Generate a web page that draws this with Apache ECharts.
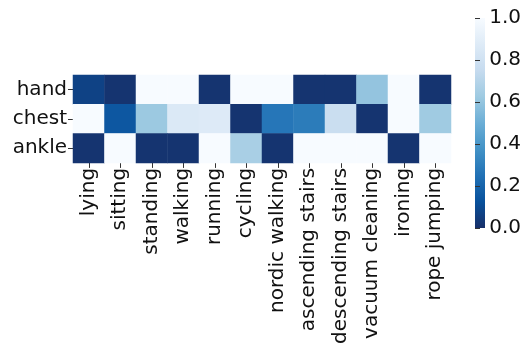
<!DOCTYPE html>
<html>
<head>
<meta charset="utf-8">
<script src="https://cdn.jsdelivr.net/npm/echarts@6/dist/echarts.min.js"></script>
<style>
  html, body { margin: 0; padding: 0; background: #fff; }
  #chart { width: 524px; height: 347px; }
</style>
</head>
<body>
<div id="chart"></div>
<script>
// Activities (columns) and sensor placements (rows)
var activities = ['lying', 'sitting', 'standing', 'walking', 'running', 'cycling',
  'nordic walking', 'ascending stairs', 'descending stairs', 'vacuum cleaning',
  'ironing', 'rope jumping'];
var sensors = ['hand', 'chest', 'ankle'];

// Score per sensor, one value per activity
var handValues  = [0.07, 0.02, 1.00, 1.00, 0.02, 1.00, 1.00, 0.02, 0.02, 0.60, 1.00, 0.02];
var chestValues = [1.00, 0.15, 0.62, 0.86, 0.87, 0.02, 0.27, 0.29, 0.77, 0.02, 1.00, 0.63];
var ankleValues = [0.02, 1.00, 0.02, 0.02, 1.00, 0.66, 0.02, 1.00, 1.00, 1.00, 0.02, 1.00];

// Colour bar ticks
var barTicks = [0.0, 0.2, 0.4, 0.6, 0.8, 1.0];

var rows = [handValues, chestValues, ankleValues];
var cells = [];
rows.forEach(function (vals, r) {
  vals.forEach(function (v, c) { cells.push([c, r, v]); });
});

// Reversed "Blues" palette: dark navy at 0, near-white at 1
var bluesR = ['#172f68', '#08519c', '#2171b5', '#4292c6', '#6baed6',
  '#9ecae1', '#c6dbef', '#deebf7', '#f7fbff'];

var font = 'DejaVu Sans';
var bar = { left: 475, top: 18, width: 10, height: 210 };

var chart = echarts.init(document.getElementById('chart'));
chart.setOption({
  animation: false,
  backgroundColor: '#fff',
  textStyle: { fontFamily: font },
  grid: [
    { left: 73, top: 75, width: 378, height: 94 },
    { left: bar.left, top: bar.top, width: bar.width, height: bar.height }
  ],
  xAxis: [
    {
      type: 'category', gridIndex: 0, data: activities,
      axisLine: { show: false },
      axisTick: { show: true, alignWithLabel: true, length: 5, lineStyle: { color: '#333' } },
      axisLabel: { rotate: 90, fontSize: 20, color: '#111', margin: 5, fontFamily: font },
      splitArea: { show: false }
    },
    { type: 'value', gridIndex: 1, show: false, min: 0, max: 1 }
  ],
  yAxis: [
    {
      type: 'category', gridIndex: 0, data: sensors, inverse: true,
      axisLine: { show: false },
      axisTick: { show: true, alignWithLabel: true, length: 5, lineStyle: { color: '#333' } },
      axisLabel: { fontSize: 20, color: '#111', margin: 6, fontFamily: font }
    },
    {
      type: 'value', gridIndex: 1, position: 'right', min: 0, max: 1, interval: 0.2,
      axisLine: { show: false },
      splitLine: { show: false },
      axisTick: { show: true, length: 5, lineStyle: { color: '#333' } },
      axisLabel: {
        fontSize: 20, color: '#111', margin: 5, fontFamily: font,
        formatter: function (v) { return v.toFixed(1); }
      }
    }
  ],
  visualMap: {
    type: 'continuous',
    show: false,
    min: 0, max: 1,
    seriesIndex: 0,
    inRange: { color: bluesR }
  },
  graphic: [{
    type: 'rect',
    left: bar.left, top: bar.top,
    shape: { width: bar.width, height: bar.height },
    style: {
      fill: new echarts.graphic.LinearGradient(0, 1, 0, 0,
        bluesR.map(function (c, i) { return { offset: i / (bluesR.length - 1), color: c }; }))
    },
    silent: true
  }],
  series: [
    {
      type: 'heatmap', xAxisIndex: 0, yAxisIndex: 0,
      data: cells,
      itemStyle: { borderWidth: 0 },
      emphasis: { disabled: true }
    },
    {
      type: 'line', xAxisIndex: 1, yAxisIndex: 1,
      data: [], silent: true
    }
  ]
});
</script>
</body>
</html>
